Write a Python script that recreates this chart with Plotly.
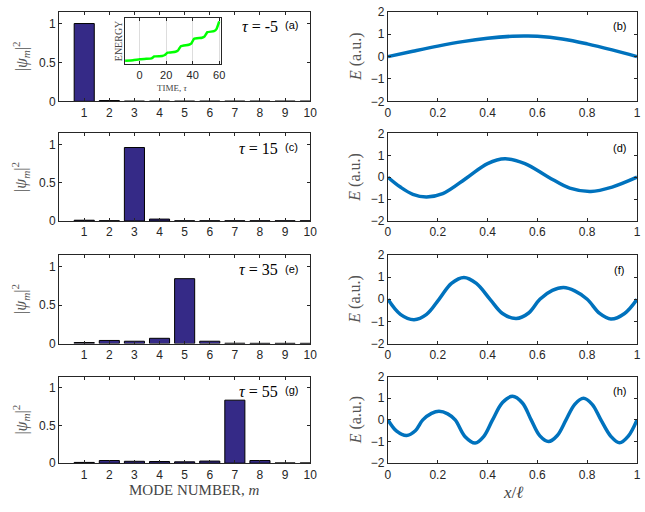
import plotly.graph_objects as go

W, H = 645, 512

modes = [1, 2, 3, 4, 5, 6, 7, 8, 9, 10]
prob_a = [1.0, 0.01, 0.003, 0.003, 0.003, 0.003, 0.003, 0.003, 0.003, 0.003]
prob_c = [0.01, 0.003, 0.965, 0.025, 0.002, 0.002, 0.002, 0.002, 0.002, 0.002]
prob_e = [0.013, 0.04, 0.03, 0.068, 0.843, 0.03, 0.004, 0.003, 0.003, 0.003]
prob_g = [0.01, 0.035, 0.025, 0.022, 0.018, 0.028, 0.837, 0.035, 0.003, 0.003]
taus = ["-5", "15", "35", "55"]
left_tags = ["(a)", "(c)", "(e)", "(g)"]
right_tags = ["(b)", "(d)", "(f)", "(h)"]

x_b = [0, 0.1, 0.2, 0.3, 0.4, 0.5, 0.55, 0.6, 0.7, 0.8, 0.9, 1.0]
E_b = [0, 0.24, 0.47, 0.67, 0.82, 0.91, 0.92, 0.91, 0.79, 0.57, 0.30, 0]
x_d = [0, 0.05, 0.1, 0.155, 0.22, 0.32, 0.4, 0.47, 0.55, 0.645, 0.73, 0.815, 0.9, 1.0]
E_d = [0, -0.45, -0.78, -0.9, -0.75, 0, 0.62, 0.84, 0.62, 0, -0.5, -0.65, -0.45, 0]
x_f = [0, 0.05, 0.105, 0.155, 0.205, 0.255, 0.305, 0.355, 0.41, 0.46, 0.515, 0.565,
       0.61, 0.66, 0.705, 0.75, 0.8, 0.85, 0.895, 0.95, 1.0]
E_f = [0, -0.68, -0.92, -0.68, 0, 0.72, 0.99, 0.72, 0, -0.64, -0.87, -0.62, 0,
       0.4, 0.53, 0.38, 0, -0.64, -0.89, -0.64, 0]
x_h = [0, 0.035, 0.075, 0.11, 0.14, 0.175, 0.205, 0.24, 0.27, 0.31, 0.35, 0.385, 0.42,
       0.46, 0.5, 0.54, 0.575, 0.61, 0.645, 0.68, 0.715, 0.75, 0.785, 0.82, 0.855,
       0.895, 0.93, 0.965, 1.0]
E_h = [0, -0.52, -0.72, -0.5, 0, 0.3, 0.4, 0.28, 0, -0.78, -1.07, -0.76, 0,
       0.8, 1.09, 0.78, 0, -0.74, -1.0, -0.72, 0, 0.72, 1.0, 0.72, 0,
       -0.76, -1.06, -0.75, 0]

tau_t = [-11, -5, 0, 5, 9, 11, 17, 19, 21, 27, 29, 31, 37, 39, 41, 47, 49, 51, 56, 58, 60]
energy = [0.08, 0.09, 0.11, 0.12, 0.13, 0.17, 0.18, 0.2, 0.25, 0.27, 0.3, 0.39, 0.42,
          0.45, 0.55, 0.57, 0.6, 0.69, 0.71, 0.76, 0.92]

probs = [prob_a, prob_c, prob_e, prob_g]
xs = [x_b, x_d, x_f, x_h]
Es = [E_b, E_d, E_f, E_h]

rows = [(5, 97), (130, 220), (255, 346), (380, 469)]
LX = (57, 312)
RX = (391, 644)

def px(x):
    return x / W

def py(y):
    return 1 - y / H

TXT = "#262626"
fig = go.Figure()
layout = dict(width=W, height=H, margin=dict(l=0, r=0, t=0, b=0),
              paper_bgcolor="white", plot_bgcolor="white", showlegend=False,
              font=dict(family="Liberation Sans, Arial", size=12, color=TXT))
annotations = []

def ann(text, x, y, size, family, color, xanchor="center", angle=0):
    annotations.append(dict(text=text, x=px(x), y=py(y), xref="paper", yref="paper",
                            xanchor=xanchor, yanchor="middle", textangle=angle,
                            showarrow=False,
                            font=dict(family=family, size=size, color=color)))

axcommon = dict(showline=True, linecolor=TXT, linewidth=1, mirror="ticks",
                ticks="inside", ticklen=3, tickwidth=1, tickcolor=TXT,
                showgrid=False, zeroline=False, tickfont=dict(size=12, color=TXT))

for i in range(4):
    top, bot = rows[i]
    nl = 2 * i + 1
    nr = 2 * i + 2
    fig.add_trace(go.Bar(x=modes, y=probs[i], width=0.8,
                         marker=dict(color="#352A87", line=dict(color="black", width=1)),
                         xaxis=f"x{nl}", yaxis=f"y{nl}"))
    fig.add_trace(go.Scatter(x=xs[i], y=Es[i], mode="lines",
                             line=dict(color="#0072BD", width=3.5, shape="spline", smoothing=1.0),
                             xaxis=f"x{nr}", yaxis=f"y{nr}"))
    yd = [py(bot), py(top)]
    layout[f"xaxis{nl}"] = dict(axcommon, domain=[px(LX[0]), px(LX[1])], range=[0, 10],
                                tickvals=modes, anchor=f"y{nl}")
    layout[f"yaxis{nl}"] = dict(axcommon, domain=yd, range=[0, 1.15],
                                tickvals=[0, 0.5, 1], ticktext=["0", "0.5", "1"], anchor=f"x{nl}")
    layout[f"xaxis{nr}"] = dict(axcommon, domain=[px(RX[0]), px(RX[1])], range=[0, 1],
                                tickvals=[0, 0.2, 0.4, 0.6, 0.8, 1],
                                ticktext=["0", "0.2", "0.4", "0.6", "0.8", "1"], anchor=f"y{nr}")
    layout[f"yaxis{nr}"] = dict(axcommon, domain=yd, range=[-2, 2],
                                tickvals=[-2, -1, 0, 1, 2], anchor=f"x{nr}")
    mid = (top + bot) / 2
    ann("|<i>ψ<sub>m</sub></i>|<sup>2</sup>", 18, mid, 16, "Liberation Serif", "#555555", angle=-90)
    ann("<i>E</i> (a.u.)", 358, mid, 16, "Liberation Serif", "#555555", angle=-90)
    ann(f"<i>τ</i> = {taus[i]}", 281, top + 15, 16, "Liberation Serif", "black", xanchor="right")
    ann(left_tags[i], 284, top + 14, 11, "Liberation Sans", "black", xanchor="left")
    ann(right_tags[i], 626, top + 15, 11, "Liberation Sans", "black")

# inset
fig.add_trace(go.Scatter(x=tau_t, y=energy, mode="lines",
                         line=dict(color="#00FF00", width=2.5, shape="spline", smoothing=0.3),
                         xaxis="x9", yaxis="y9"))
layout["xaxis9"] = dict(axcommon, domain=[px(124), px(221)], range=[-11, 61],
                        tickvals=[0, 20, 40, 60], showgrid=True, gridcolor="#dddddd",
                        anchor="y9", tickfont=dict(size=11, color=TXT))
layout["yaxis9"] = dict(axcommon, domain=[py(59), py(11)], range=[0, 1],
                        tickvals=[], anchor="x9")
ann("ENERGY", 117, 35, 10, "Liberation Serif", "#444444", angle=-90)
ann("TIME, <i>τ</i>", 172, 83, 9, "Liberation Serif", "#444444")
ann("MODE NUMBER, <i>m</i>", 195, 497, 15, "Liberation Serif", "#444444")
ann("<i>x</i>/<i>ℓ</i>", 518, 499, 17, "Liberation Serif", "#444444")

layout["annotations"] = annotations
fig.update_layout(**layout)
fig.write_html("out.html")
